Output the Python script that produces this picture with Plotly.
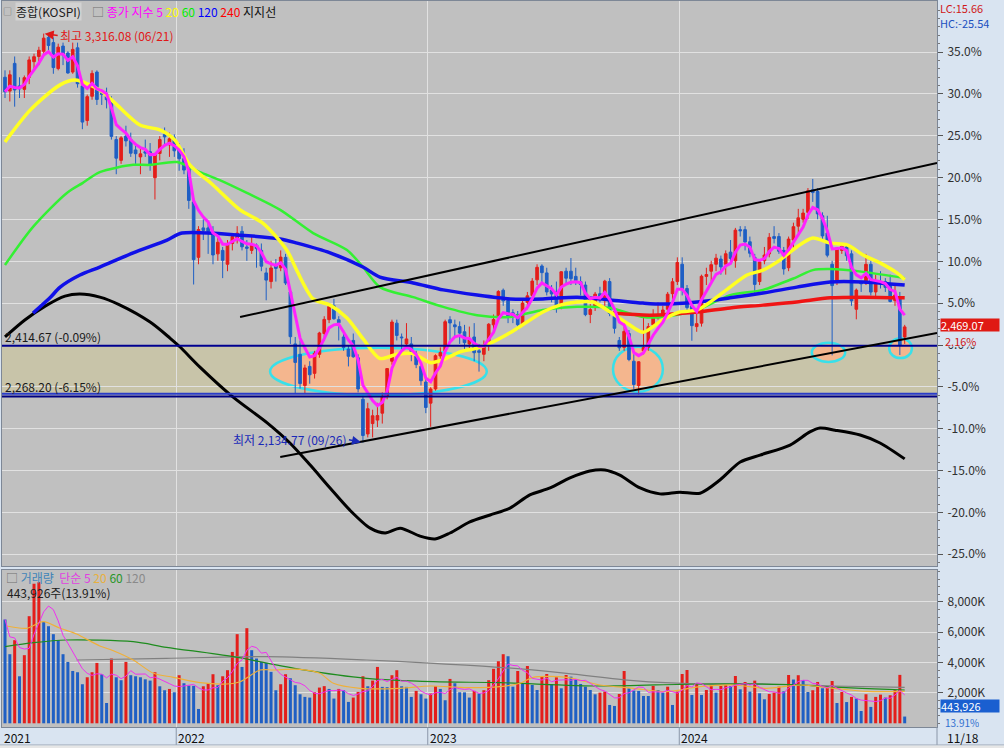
import numpy as np
import pandas as pd
import plotly.graph_objects as go

FONT = "Noto Sans CJK KR"
RED = "#e41e1a"
BLUE = "#1f5fc4"

# ---------------- data ----------------
weeks = pd.date_range("2021-04-26", "2024-11-18", freq="7D").strftime("%Y-%m-%d").tolist()

opens = [
    3190, 3150, 3230, 3165, 3155, 3190, 3235, 3250, 3265, 3305,
    3290, 3215, 3280, 3260, 3205, 3275, 3165, 3065, 3135, 3205,
    3145, 3140, 3120, 3010, 2950, 3020, 3010, 2980, 2960, 2975,
    2975, 2900, 2970, 3025, 2995, 3015, 2990, 2955, 2925, 2830,
    2670, 2755, 2755, 2740, 2680, 2690, 2650, 2710, 2725, 2745,
    2700, 2690, 2705, 2690, 2625, 2600, 2645, 2640, 2670, 2570,
    2420, 2390, 2300, 2355, 2335, 2390, 2450, 2490, 2530, 2490,
    2440, 2405, 2430, 2380, 2260, 2160, 2190, 2200, 2220, 2270,
    2370, 2480, 2440, 2420, 2420, 2390, 2355, 2310, 2249, 2290,
    2385, 2400, 2490, 2475, 2470, 2455, 2420, 2440, 2400, 2390,
    2420, 2475, 2495, 2575, 2545, 2510, 2505, 2475, 2540, 2560,
    2605, 2645, 2625, 2575, 2570, 2530, 2630, 2630, 2615, 2600,
    2590, 2505, 2525, 2565, 2545, 2600, 2500, 2430, 2410, 2450,
    2370, 2300, 2400, 2410, 2475, 2495, 2500, 2520, 2565, 2600,
    2650, 2580, 2530, 2470, 2480, 2615, 2630, 2650, 2665, 2650,
    2685, 2660, 2750, 2750, 2715, 2670, 2600, 2660, 2680, 2730,
    2730, 2690, 2640, 2720, 2760, 2780, 2800, 2865, 2860, 2790,
    2740, 2650, 2600, 2690, 2700, 2680, 2520, 2600, 2600, 2650,
    2570, 2600, 2600, 2590, 2545, 2555, 2440]
highs = [
    3210, 3210, 3250, 3190, 3195, 3250, 3258, 3278, 3316.08, 3310,
    3305, 3287, 3290, 3265, 3290, 3290, 3170, 3140, 3210, 3210,
    3150, 3160, 3135, 3020, 3020, 3050, 3030, 3000, 2985, 3010,
    3000, 2970, 3020, 3045, 3030, 3025, 3000, 2985, 2940, 2840,
    2760, 2780, 2770, 2760, 2740, 2700, 2720, 2740, 2760, 2760,
    2720, 2730, 2710, 2710, 2640, 2660, 2665, 2690, 2680, 2580,
    2440, 2430, 2360, 2370, 2400, 2455, 2500, 2530, 2550, 2500,
    2460, 2415, 2450, 2390, 2270, 2250, 2230, 2250, 2280, 2350,
    2490, 2490, 2450, 2480, 2440, 2400, 2365, 2320, 2295, 2390,
    2410, 2490, 2500, 2490, 2485, 2475, 2470, 2480, 2420, 2430,
    2480, 2505, 2575, 2580, 2550, 2520, 2515, 2545, 2570, 2610,
    2650, 2650, 2640, 2590, 2600, 2630, 2640, 2668, 2640, 2615,
    2600, 2535, 2570, 2585, 2605, 2610, 2510, 2440, 2480, 2460,
    2390, 2370, 2502, 2480, 2520, 2540, 2530, 2570, 2610, 2670,
    2670, 2590, 2540, 2520, 2620, 2640, 2660, 2680, 2675, 2690,
    2720, 2755, 2760, 2760, 2730, 2680, 2660, 2700, 2740, 2760,
    2740, 2700, 2730, 2770, 2810, 2810, 2870, 2896.43, 2870, 2800,
    2790, 2660, 2700, 2710, 2710, 2690, 2580, 2600, 2680, 2660,
    2620, 2630, 2610, 2620, 2590, 2570, 2475]
lows = [
    3130, 3120, 3105, 3130, 3130, 3170, 3210, 3225, 3255, 3260,
    3200, 3210, 3225, 3200, 3200, 3160, 3040, 3050, 3125, 3110,
    3110, 3100, 3010, 2910, 2940, 2990, 2960, 2940, 2910, 2960,
    2920, 2837, 2950, 2990, 2960, 2960, 2920, 2910, 2810, 2591.53,
    2650, 2720, 2680, 2650, 2660, 2610, 2630, 2690, 2710, 2690,
    2660, 2680, 2640, 2630, 2546, 2580, 2600, 2630, 2590, 2420,
    2276.63, 2291, 2276, 2305, 2320, 2380, 2430, 2480, 2490, 2430,
    2400, 2355, 2380, 2280, 2134.77, 2150, 2150, 2180, 2190, 2260,
    2360, 2430, 2400, 2410, 2370, 2350, 2300, 2220, 2180.67, 2285,
    2360, 2400, 2430, 2440, 2420, 2400, 2400, 2370, 2340, 2370,
    2400, 2455, 2490, 2530, 2480, 2480, 2460, 2470, 2520, 2550,
    2590, 2590, 2560, 2540, 2510, 2520, 2590, 2590, 2590, 2560,
    2500, 2480, 2515, 2540, 2530, 2500, 2450, 2400, 2400, 2370,
    2290, 2273.44, 2390, 2400, 2470, 2490, 2480, 2500, 2540, 2590,
    2560, 2510, 2429.12, 2455, 2470, 2590, 2600, 2630, 2620, 2620,
    2650, 2640, 2730, 2690, 2670, 2560, 2590, 2650, 2670, 2710,
    2680, 2620, 2630, 2690, 2740, 2770, 2780, 2830, 2780, 2720,
    2670, 2386.96, 2590, 2680, 2660, 2530, 2491, 2570, 2590, 2560,
    2550, 2580, 2570, 2540, 2530, 2388, 2420]
closes = [
    3147.86, 3197.20, 3153.32, 3156.42, 3188.73, 3240.08, 3249.32, 3267.93, 3302.84, 3281.78,
    3217.95, 3276.91, 3254.42, 3202.32, 3270.36, 3171.29, 3060.51, 3133.90, 3201.06, 3125.76,
    3140.51, 3125.24, 3019.18, 2956.30, 3015.06, 3006.16, 2970.68, 2969.27, 2968.80, 2971.02,
    2936.44, 2968.33, 3010.23, 3017.73, 3012.43, 2977.65, 2954.89, 2921.92, 2834.29, 2663.34,
    2750.26, 2747.71, 2744.52, 2676.76, 2713.43, 2661.28, 2707.62, 2729.98, 2739.85, 2700.39,
    2696.06, 2704.71, 2695.05, 2644.51, 2604.24, 2639.29, 2638.05, 2670.65, 2595.87, 2440.93,
    2366.60, 2305.42, 2350.61, 2330.98, 2393.14, 2451.50, 2490.80, 2527.94, 2492.69, 2481.03,
    2409.41, 2384.28, 2382.78, 2290.00, 2155.49, 2232.84, 2212.55, 2213.12, 2268.40, 2348.80,
    2483.16, 2444.48, 2437.86, 2434.33, 2389.04, 2360.02, 2313.69, 2236.40, 2289.97, 2386.09,
    2395.26, 2484.02, 2480.40, 2469.49, 2451.21, 2423.61, 2432.07, 2394.59, 2395.69, 2414.96,
    2476.86, 2490.41, 2571.49, 2544.40, 2501.53, 2500.94, 2475.42, 2537.79, 2558.81, 2601.36,
    2641.16, 2625.79, 2570.10, 2564.28, 2526.71, 2628.30, 2609.76, 2608.32, 2602.80, 2591.26,
    2504.50, 2519.14, 2563.71, 2547.68, 2601.28, 2508.13, 2465.07, 2408.73, 2456.15, 2375.00,
    2302.81, 2368.34, 2409.66, 2469.85, 2496.63, 2505.01, 2517.85, 2563.56, 2599.51, 2655.28,
    2578.08, 2525.05, 2472.74, 2478.56, 2615.31, 2620.32, 2648.76, 2667.70, 2642.36, 2680.35,
    2666.84, 2748.56, 2746.63, 2714.21, 2681.82, 2591.86, 2656.33, 2676.63, 2727.63, 2724.62,
    2687.60, 2636.52, 2722.67, 2758.42, 2784.06, 2797.82, 2862.23, 2857.00, 2795.46, 2731.90,
    2676.19, 2588.43, 2697.23, 2701.69, 2674.31, 2544.28, 2575.41, 2593.37, 2649.78, 2569.71,
    2596.91, 2593.82, 2583.27, 2542.36, 2561.15, 2416.86, 2469.07]
# weekly volume, thousand shares
volumes = [
    6845, 4555, 5480, 3100, 4490, 7060, 9200, 9300, 6690, 6400,
    5875, 5480, 4555, 4045, 3450, 3365, 2575, 3035, 3365, 3980,
    3235, 1340, 4270, 3035, 2840, 4045, 3170, 3100, 3035, 2900,
    2815, 3365, 2440, 2180, 2265, 2045, 3170, 2640, 2485, 2470,
    945, 2440, 2640, 3235, 2510, 3100, 3500, 4705, 5875, 3715,
    6270, 4820, 4270, 4045, 3980, 3390, 2180, 2575, 3235, 2970,
    2510, 1915, 1740, 1695, 2045, 2355, 2450, 2265, 1630, 2265,
    2180, 1410, 1695, 2070, 3100, 2440, 2815, 3715, 2400, 2380,
    3170, 3500, 2440, 2400, 1740, 2135, 1915, 1630, 1960, 2440,
    2265, 1520, 2925, 2640, 2045, 2040, 1695, 2135, 1960, 2180,
    2840, 3590, 4090, 4555, 4420, 2413, 3447, 2637, 3777, 2525,
    2197, 3118, 3250, 2591, 3032, 2307, 3184, 3075, 2900, 2591,
    2413, 2197, 1912, 2022, 2088, 1209, 1143, 1934, 3447, 2307,
    2154, 2132, 1802, 1800, 2459, 2197, 2022, 2413, 1209, 2088,
    3250, 3514, 1868, 2591, 1868, 2197, 2525, 2022, 2459, 2525,
    2459, 3118, 2241, 2725, 2088, 2813, 1978, 1582, 1934, 2022,
    2413, 2110, 3184, 2885, 3170, 2840, 2065, 2180, 2725, 2310,
    2400, 2790, 1340, 2065, 1400, 1740, 1630, 810, 1915, 1080,
    1740, 1890, 1695, 1850, 2180, 3191.4, 443.926]

# exponential close averages : week position -> value
ma20_w = [0, 5.2, 11.4, 14.5, 19.6, 22.7, 27.9, 32, 35.1, 38.2, 43, 48.6, 53.3, 58.3, 60.4, 63.7, 67.2, 70.7, 74, 77.5,
          81, 84.4, 87.9, 90.6, 94.1, 97.6, 100.9, 104.4, 107.9, 111.2, 114.7, 118.3, 121.6, 125.1, 128.6, 131.9, 136,
          139.5, 143.1, 146.4, 149.9, 153.4, 156.7, 160.2, 163.7, 167, 170.6, 174.1, 177.4, 180.9, 184.4, 186]
ma20_v = [3003, 3095, 3168, 3182, 3153, 3116, 3052, 3038, 3009, 2937, 2879, 2807, 2769, 2690, 2630, 2550, 2532, 2495, 2435, 2378,
          2390, 2392, 2366, 2375, 2397, 2408, 2426, 2452, 2483, 2512, 2532, 2541, 2541, 2512, 2480, 2454, 2490,
          2512, 2518, 2547, 2584, 2619, 2633, 2662, 2700, 2726, 2711, 2706, 2677, 2654, 2625, 2605]
ma60_w = [0, 5.8, 12.8, 16.1, 19.6, 26.5, 30, 35.6, 40.3, 44.4, 50, 56.9, 63.7, 70.7, 74, 77.5, 84.4, 90.6, 97.6, 104.4,
          111.2, 118.3, 125.1, 131.9, 136, 143.1, 149.9, 156.7, 163.7, 167, 170.6, 177.4, 186]
ma60_v = [2648, 2758, 2856, 2885, 2916, 2937, 2937, 2945, 2916, 2893, 2856, 2807, 2740, 2691, 2642, 2584, 2555, 2527, 2503, 2498,
          2518, 2527, 2524, 2498, 2498, 2518, 2561, 2576, 2613, 2633, 2636, 2628, 2610]
ma120_w = [5.8, 9.3, 11.4, 15.5, 19.6, 26.5, 33.5, 36.6, 48.6, 56.9, 60.4, 67.2, 74, 77.5, 84.4, 90.6, 97.6, 104.4, 111.2,
           118.3, 125.1, 131.9, 136, 143.1, 149.9, 156.7, 163.7, 170.6, 177.4, 186]
ma120_v = [2509, 2553, 2584, 2619, 2642, 2683, 2720, 2740, 2734, 2723, 2711, 2683, 2642, 2613, 2596, 2576, 2561, 2550, 2550,
           2555, 2547, 2538, 2535, 2541, 2553, 2567, 2584, 2599, 2599, 2590]
ma240_w = [125.7, 133.3, 143.1, 149.9, 156.7, 163.7, 170.6, 177.4, 186]
ma240_v = [2509, 2503, 2512, 2524, 2532, 2541, 2553, 2555, 2553]
black_w = [0, 4.1, 8.3, 12.4, 15.5, 19.6, 23.8, 30, 34.1, 36.2, 40.3, 47.1, 54.2, 58.9, 63.1, 67.2, 71.3, 75.5, 78.6, 81.7,
           85.8, 88.9, 92, 96.1, 100.3, 104.4, 108.5, 112.7, 116.8, 120.9, 124, 127.1, 131.3, 135.4, 139.5, 143.7, 147.8,
           152, 156.1, 162.3, 166.4, 168.5, 171.6, 176.8, 180.9, 186]
black_v = [2440, 2489, 2529, 2558, 2564, 2555, 2532, 2483, 2437, 2411, 2353, 2267, 2192, 2134, 2070, 2004, 1940, 1888, 1874, 1888,
           1865, 1857, 1874, 1906, 1926, 1946, 1984, 2004, 2033, 2053, 2056, 2041, 2004, 1987, 1992, 1989, 2027,
           2079, 2099, 2128, 2166, 2177, 2171, 2157, 2134, 2088]

# simple volume averages
vma20_w = [0.3, 4.5, 7.9, 11.4, 14.8, 19.6, 22.4, 26.5, 30.7, 34.8, 40.3, 45.8, 48.6, 52.7, 55.5, 61, 65.1, 67.9, 73.4, 81.7,
           87.9, 95.5, 102.3, 106.5, 109.2, 116.1, 123, 129.9, 136.8, 143.7, 150.6, 157.5, 164.4, 171.3, 178.2, 186]
vma20_v = [6414, 6262, 6697, 6262, 5887, 5096, 4786, 4173, 3296, 3032, 2676, 2591, 2742, 3514, 3514, 3560, 3296, 2637, 2307, 2307,
           2459, 2347, 2413, 2637, 3032, 3032, 2525, 2307, 2088, 2413, 2525, 2307, 2525, 2307, 2100, 2100]
vma60_w = [0, 5.9, 12.7, 26.5, 33.4, 47.2, 61, 74.8, 88.6, 102.3, 123, 143.7, 164.4, 169.1, 186]
vma60_v = [5050, 5313, 5491, 5379, 5010, 4390, 3560, 2966, 2742, 2676, 2459, 2591, 2525, 2413, 2195]
vma120_w = [14.8, 33.4, 54.1, 74.8, 88.6, 102.3, 116.1, 129.9, 143.7, 157.5, 171.3, 186]
vma120_v = [4173, 4283, 4393, 4173, 3955, 3692, 3296, 2813, 2591, 2591, 2459, 2370]

support_levels = [2414.67, 2268.20]
pct_ticks = [35, 30, 25, 20, 15, 10, 5, 0, -5, -10, -15, -20, -25]
vol_ticks = [2000, 4000, 6000, 8000]
year_labels = ["2021", "2022", "2023", "2024"]

# ---------------- derived ----------------
x_idx = np.arange(len(weeks))
base = closes[-2]
last = closes[-1]
ema5 = pd.Series(closes).ewm(span=5, adjust=False).mean()
vma5 = pd.Series(volumes).rolling(5, min_periods=1).mean()
vol_colors = [BLUE] + [RED if volumes[i] > volumes[i - 1] else BLUE for i in range(1, len(volumes))]
year_pos = [next(i for i, w in enumerate(weeks) if w.startswith(y)) - 0.6 for y in year_labels]

# ---------------- geometry ----------------
W, H = 1004, 748
L, R, T, B = 2, 67, 1, 21
PW, PH = W - L - R, H - T - B
def xp(px):
    return (px - L) / PW
def yp(py):
    return (T + PH - py) / PH

price_per_px = 2.8875
y_range = [base - price_per_px * (566 - 345), base + price_per_px * (345 - 1)]
x_range = [-0.62, 192.68]

fig = go.Figure()

fig.add_trace(go.Candlestick(
    x=x_idx, open=opens, high=highs, low=lows, close=closes,
    increasing=dict(line=dict(color=RED, width=1), fillcolor=RED),
    decreasing=dict(line=dict(color=BLUE, width=1), fillcolor=BLUE),
    whiskerwidth=0, xaxis="x", yaxis="y", hoverinfo="skip"))

def line(xs, ys, color, width, axis="y", shape="spline", xa="x"):
    fig.add_trace(go.Scatter(x=xs, y=ys, mode="lines", xaxis=xa, yaxis=axis,
                             line=dict(color=color, width=width, shape=shape, smoothing=0.8),
                             hoverinfo="skip"))

line(black_w, black_v, "#000000", 3)
line(ma60_w, ma60_v, "#33f033", 2.5)
line(ma120_w, ma120_v, "#1010e8", 3.5)
line(ma240_w, ma240_v, "#f01414", 3.5)
line(ma20_w, ma20_v, "#ffff22", 3.5)
line(x_idx, ema5, "#ff22ff", 3, shape="linear")

fig.add_trace(go.Bar(x=x_idx, y=volumes, marker=dict(color=vol_colors, line=dict(width=0)),
                     width=0.62, xaxis="x2", yaxis="y2", hoverinfo="skip"))
line(vma120_w, vma120_v, "#808080", 1.2, axis="y2", xa="x2")
line(vma60_w, vma60_v, "#1e8c1e", 1.2, axis="y2", xa="x2")
line(vma20_w, vma20_v, "#f0b038", 1.2, axis="y2", xa="x2")
line(x_idx, vma5, "#f030f0", 1.0, axis="y2", shape="linear", xa="x2")

# ---------------- axes ----------------
GRID = "#e1e1e1"
tick_font = dict(family=FONT, size=12, color="#303030")
price_ticks = [base * (1 + p / 100) for p in pct_ticks]
minor_vals = [base * (1 + p / 100) for p in range(-27, 41)]

fig.update_layout(
    width=W, height=H, margin=dict(l=L, r=R, t=T, b=B),
    paper_bgcolor="#d9e4f1", plot_bgcolor="#c0c0c0",
    showlegend=False, hovermode=False,
    font=dict(family=FONT, size=12, color="#202020"),
    boxgap=0.22, boxgroupgap=0.3,
    xaxis=dict(domain=[0, 1], range=x_range, anchor="y", showticklabels=False,
               tickvals=year_pos, showgrid=True, gridcolor=GRID, zeroline=False,
               rangeslider=dict(visible=False), showline=True, linecolor="#7d8796", mirror=True, ticks=""),
    xaxis2=dict(domain=[0, 1], range=x_range, anchor="y2", matches="x", showticklabels=False,
                tickvals=year_pos, showgrid=True, gridcolor=GRID, zeroline=False,
                showline=True, linecolor="#7d8796", mirror=True, ticks=""),
    yaxis=dict(domain=[yp(566), 1], range=y_range, side="right", anchor="x",
               tickvals=price_ticks, ticktext=[f"{p:.1f}%" for p in pct_ticks],
               showgrid=True, gridcolor=GRID, zeroline=False, tickfont=tick_font,
               ticks="outside", ticklen=5, tickcolor="#555555", ticklabelstandoff=2,
               minor=dict(tickmode="array", tickvals=minor_vals, ticks="outside", ticklen=2,
                          tickcolor="#777777", showgrid=False),
               showline=True, linecolor="#7d8796", mirror=True),
    yaxis2=dict(domain=[0, yp(570)], range=[-244, 10105], side="right", anchor="x2",
                tickvals=vol_ticks, ticktext=[f"{v:,}K" for v in vol_ticks],
                showgrid=True, gridcolor=GRID, zeroline=False, tickfont=tick_font,
                ticks="outside", ticklen=5, tickcolor="#555555", ticklabelstandoff=2,
                minor=dict(tickmode="array", tickvals=list(range(0, 10001, 500)), ticks="outside",
                           ticklen=2, tickcolor="#777777", showgrid=False),
                showline=True, linecolor="#7d8796", mirror=True),
)

# ---------------- shapes ----------------
shapes = []
# support zone
shapes.append(dict(type="rect", xref="x domain", x0=0, x1=1, yref="y",
                   y0=support_levels[1] + 8, y1=support_levels[0],
                   fillcolor="#c8c4a9", line=dict(width=0), layer="below"))
# highlighted zones
ELL = [(54.8, 99.6, 2272, 2409), (125.7, 136.0, 2282, 2412),
       (166.8, 173.7, 2368, 2423), (182.8, 187.5, 2379, 2436)]
for x0, x1, y0, y1 in ELL:
    shapes.append(dict(type="circle", xref="x", yref="y", x0=x0, x1=x1, y0=y0, y1=y1,
                       fillcolor="#f4b68e", line=dict(color="#38e0ea", width=2.5), layer="below"))
# horizontal support lines
shapes.append(dict(type="line", xref="x domain", x0=0, x1=1, yref="y",
                   y0=support_levels[0], y1=support_levels[0], line=dict(color="#000090", width=2)))
shapes.append(dict(type="line", xref="x domain", x0=0, x1=1, yref="y",
                   y0=support_levels[1] + 8, y1=support_levels[1] + 8, line=dict(color="#2a3cc8", width=2)))
shapes.append(dict(type="line", xref="x domain", x0=0, x1=1, yref="y",
                   y0=support_levels[1], y1=support_levels[1], line=dict(color="#000080", width=2)))
# channel trend lines
shapes.append(dict(type="line", xref="x", yref="y", x0=48.6, y0=2497.7, x1=192.68, y1=2942.4,
                   line=dict(color="#000000", width=2)))
shapes.append(dict(type="line", xref="x", yref="y", x0=56.9, y0=2093.5, x1=192.68, y1=2451.5,
                   line=dict(color="#000000", width=2)))
# date band separators
for xv in year_pos[1:]:
    shapes.append(dict(type="line", xref="x2", yref="paper", x0=xv, x1=xv, y0=yp(745), y1=0,
                       line=dict(color="#8a96a8", width=1)))
shapes.append(dict(type="line", xref="paper", yref="paper", x0=1, x1=1, y0=yp(745), y1=0,
                   line=dict(color="#8a96a8", width=1)))
shapes.append(dict(type="line", xref="paper", yref="paper", x0=xp(0), x1=xp(1004), y0=yp(745), y1=yp(745),
                   line=dict(color="#9aa4b2", width=1)))
shapes.append(dict(type="rect", xref="paper", yref="paper", x0=xp(0), x1=xp(1004), y0=yp(748), y1=yp(745.5),
                   fillcolor="#e6e6e6", line=dict(width=0)))
fig.update_layout(shapes=shapes)

# ---------------- annotations ----------------
ann = []
def txt(text, x, y, color="#202020", size=12, xanchor="left", yanchor="middle", xref="paper", yref="paper",
        bg=None, **kw):
    d = dict(text=text, x=x, y=y, xref=xref, yref=yref, xanchor=xanchor, yanchor=yanchor,
             showarrow=False, font=dict(family=FONT, size=size, color=color))
    if bg:
        d["bgcolor"] = bg
    d.update(kw)
    ann.append(d)

# price legend
txt("□", xp(2), yp(12), color="#707070", size=9, borderpad=0)
txt("종합(KOSPI)", xp(15), yp(12), color="#202020", size=12, bg="#d2d2d2", borderpad=0)
txt("□ <span style='color:#ff00ff'>종가 지수 5</span> <span style='color:#ffff00'>20</span> "
    "<span style='color:#00ee00'>60</span> <span style='color:#0000ff'>120</span> "
    "<span style='color:#ff0000'>240</span> <span style='color:#101010'>지지선</span>",
    xp(91), yp(12), color="#707070", size=12, borderpad=0)
# volume legend
txt("□ <span style='color:#3f84b8'>거래량</span>  <span style='color:#e040e0'>단순 5</span> "
    "<span style='color:#e8b040'>20</span> <span style='color:#2a962a'>60</span> "
    "<span style='color:#8a8a8a'>120</span>", xp(5), yp(577), color="#707070", size=12, borderpad=0)
last_vol = volumes[-1]
vol_pct = last_vol / volumes[-2] * 100
txt(f"{last_vol * 1000:,.0f}주({vol_pct:.2f}%)", xp(6), yp(592), color="#202020", size=12, borderpad=0)

# support level labels
for lvl in support_levels:
    txt(f"{lvl:,.2f} ({(lvl / base - 1) * 100:.2f}%)", xp(4), lvl, yref="y",
        yanchor="bottom", yshift=0, color="#1a1a1a", size=12, borderpad=0)

# high / low markers
i_hi = int(np.argmax(highs))
i_lo = int(np.argmin(lows))
ann.append(dict(x=i_hi, y=highs[i_hi], xref="x", yref="y", ax=14, ay=2,
                text=f"최고 {highs[i_hi]:,.2f} ({weeks[i_hi][5:7]}/{weeks[i_hi][8:10]})",
                xanchor="left", showarrow=True, arrowhead=2, arrowsize=1.2, arrowwidth=1.5,
                arrowcolor="#e01818", standoff=1, font=dict(family=FONT, size=12, color="#e01818")))
ann.append(dict(x=i_lo, y=lows[i_lo], xref="x", yref="y", ax=-14, ay=-3,
                text=f"최저 {lows[i_lo]:,.2f} ({weeks[i_lo][5:7]}/{weeks[i_lo][8:10]})",
                xanchor="right", showarrow=True, arrowhead=2, arrowsize=1.2, arrowwidth=1.5,
                arrowcolor="#1a2ab8", standoff=2, font=dict(family=FONT, size=12, color="#1a2ab8")))

# right side texts
txt("LC:15.66", xp(939), yp(8), color="#d01818", size=11, height=12, borderpad=0)
txt("HC:-25.54", xp(939), yp(23), color="#2050c0", size=11, height=12, borderpad=0)
txt(f"{last:,.2f}", xp(940), last, yref="y", yshift=2, color="#ffffff", size=11, bg="#e01a14",
    borderpad=0, height=12, width=58, align="left")
txt(f"{(last / base - 1) * 100:.2f}%", xp(944), last, yref="y", yshift=-14, color="#d01818", size=11,
    height=11, bg="#d9e4f1", borderpad=0)
txt(f"{last_vol * 1000:,.0f}", xp(940), yp(706), color="#ffffff", size=11, bg="#1a5fd0",
    borderpad=0, height=12, width=58, align="left")
txt(f"{vol_pct:.2f}%", xp(944), yp(721.5), color="#2f6fd0", size=10, height=10, borderpad=0)

# date labels
for lab, xv in zip(year_labels, year_pos):
    txt(lab, max(xv, x_range[0]), yp(737), xref="x2", xshift=1, color="#101010", size=12, borderpad=0)
txt(f"{weeks[-1][5:7]}/{weeks[-1][8:10]}", xp(946), yp(737), color="#101010", size=12, borderpad=0)

fig.update_layout(annotations=ann)

fig.write_html("out.html", config={"displayModeBar": False},
               post_script="document.body.style.margin='0px';")
